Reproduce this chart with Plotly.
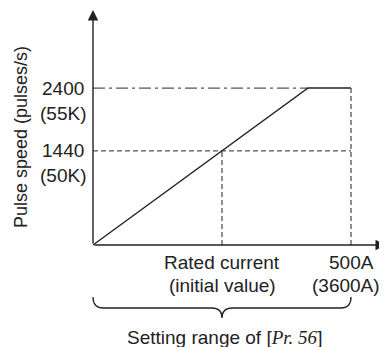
import plotly.graph_objects as go

# Characteristic curve (x: current in units of rated current, y: pulse speed)
current_x = [0, 1.667, 2.0]
speed_y = [0, 2400, 2400]

# Reference levels on the y axis
speed_levels = [2400, 1440]
speed_labels = ["2400", "1440"]
speed_sublabels = ["(55K)", "(50K)"]

# Reference points on the x axis
current_marks = [1.0, 2.0]
current_labels = ["Rated current", "500A"]
current_sublabels = ["(initial value)", "(3600A)"]

x_end, y_end = 2.271, 3593
FONT = "Liberation Sans, Arial, sans-serif"
INK = "#222222"
GREY = "#555555"

fig = go.Figure()

# guide lines
fig.add_trace(go.Scatter(x=[0, current_x[1]], y=[speed_levels[0]] * 2, mode="lines",
                         line=dict(color=GREY, width=1.3, dash="12px,4px,3px,4px")))
fig.add_trace(go.Scatter(x=[0, current_marks[1]], y=[speed_levels[1]] * 2, mode="lines",
                         line=dict(color=GREY, width=1.3, dash="5px,3px")))
fig.add_trace(go.Scatter(x=[current_marks[0]] * 2, y=[0, speed_levels[1]], mode="lines",
                         line=dict(color=GREY, width=1.3, dash="5px,3px")))
fig.add_trace(go.Scatter(x=[current_marks[1]] * 2, y=[0, speed_levels[0]], mode="lines",
                         line=dict(color=GREY, width=1.3, dash="5px,3px")))

# the curve
fig.add_trace(go.Scatter(x=current_x, y=speed_y, mode="lines",
                         line=dict(color=INK, width=1.4)))

# axes with arrow heads
for ex, ey in [(x_end, 0), (0, y_end)]:
    fig.add_annotation(x=ex, y=ey, ax=0, ay=0, xref="x", yref="y", axref="x", ayref="y",
                       text="", showarrow=True, arrowhead=2, arrowsize=1.5,
                       arrowwidth=1.4, arrowcolor=INK)

# y labels
for lv, lab, sub in zip(speed_levels, speed_labels, speed_sublabels):
    fig.add_annotation(x=-0.233, y=lv, text=lab, showarrow=False)
    fig.add_annotation(x=-0.233, y=lv, text=sub, showarrow=False, yshift=-25)

# x labels
for i, (cx, lab, sub) in enumerate(zip(current_marks, current_labels, current_sublabels)):
    fig.add_annotation(x=cx, y=-260, text=lab, showarrow=False)
    fig.add_annotation(x=cx, y=-260, text=sub, showarrow=False, yshift=-23,
                       xshift=-5 if i == 1 else 0)

fig.add_annotation(x=-0.558, y=1651, text="Pulse speed (pulses/s)", textangle=-90,
                   showarrow=False, font=dict(size=18))

# brace under the x axis
x0, xm, x1 = 0, current_marks[0], current_marks[1]
yt, yl, yb, r = -795, -963, -1116, 0.08
brace = (f"M {x0},{yt} Q {x0},{yl} {x0 + r},{yl} L {xm - r},{yl} "
         f"Q {xm},{yl} {xm},{yb} Q {xm},{yl} {xm + r},{yl} "
         f"L {x1 - r},{yl} Q {x1},{yl} {x1},{yt}")
fig.add_shape(type="path", path=brace, xref="x", yref="y",
              line=dict(color=INK, width=1.3))

fig.add_annotation(x=1.02, y=-1407, showarrow=False,
                   text="Setting range of [<span style='font-family:Liberation Serif'>"
                        "<i>Pr. 56</i></span>]")

# the page adds an 8px body margin, so the ranges are set for that offset
fig.update_layout(
    width=387, height=347, margin=dict(l=0, r=0, t=0, b=0),
    showlegend=False, paper_bgcolor="white", plot_bgcolor="white",
    font=dict(family=FONT, size=19, color=INK),
    xaxis=dict(range=[-0.659, 2.341], visible=False, fixedrange=True),
    yaxis=dict(range=[-1682, 3624], visible=False, fixedrange=True),
)
fig.update_annotations(font_family=FONT, font_color=INK)
for a in fig.layout.annotations:
    if a.font.size is None:
        a.font.size = 19

fig.write_html("out.html")
